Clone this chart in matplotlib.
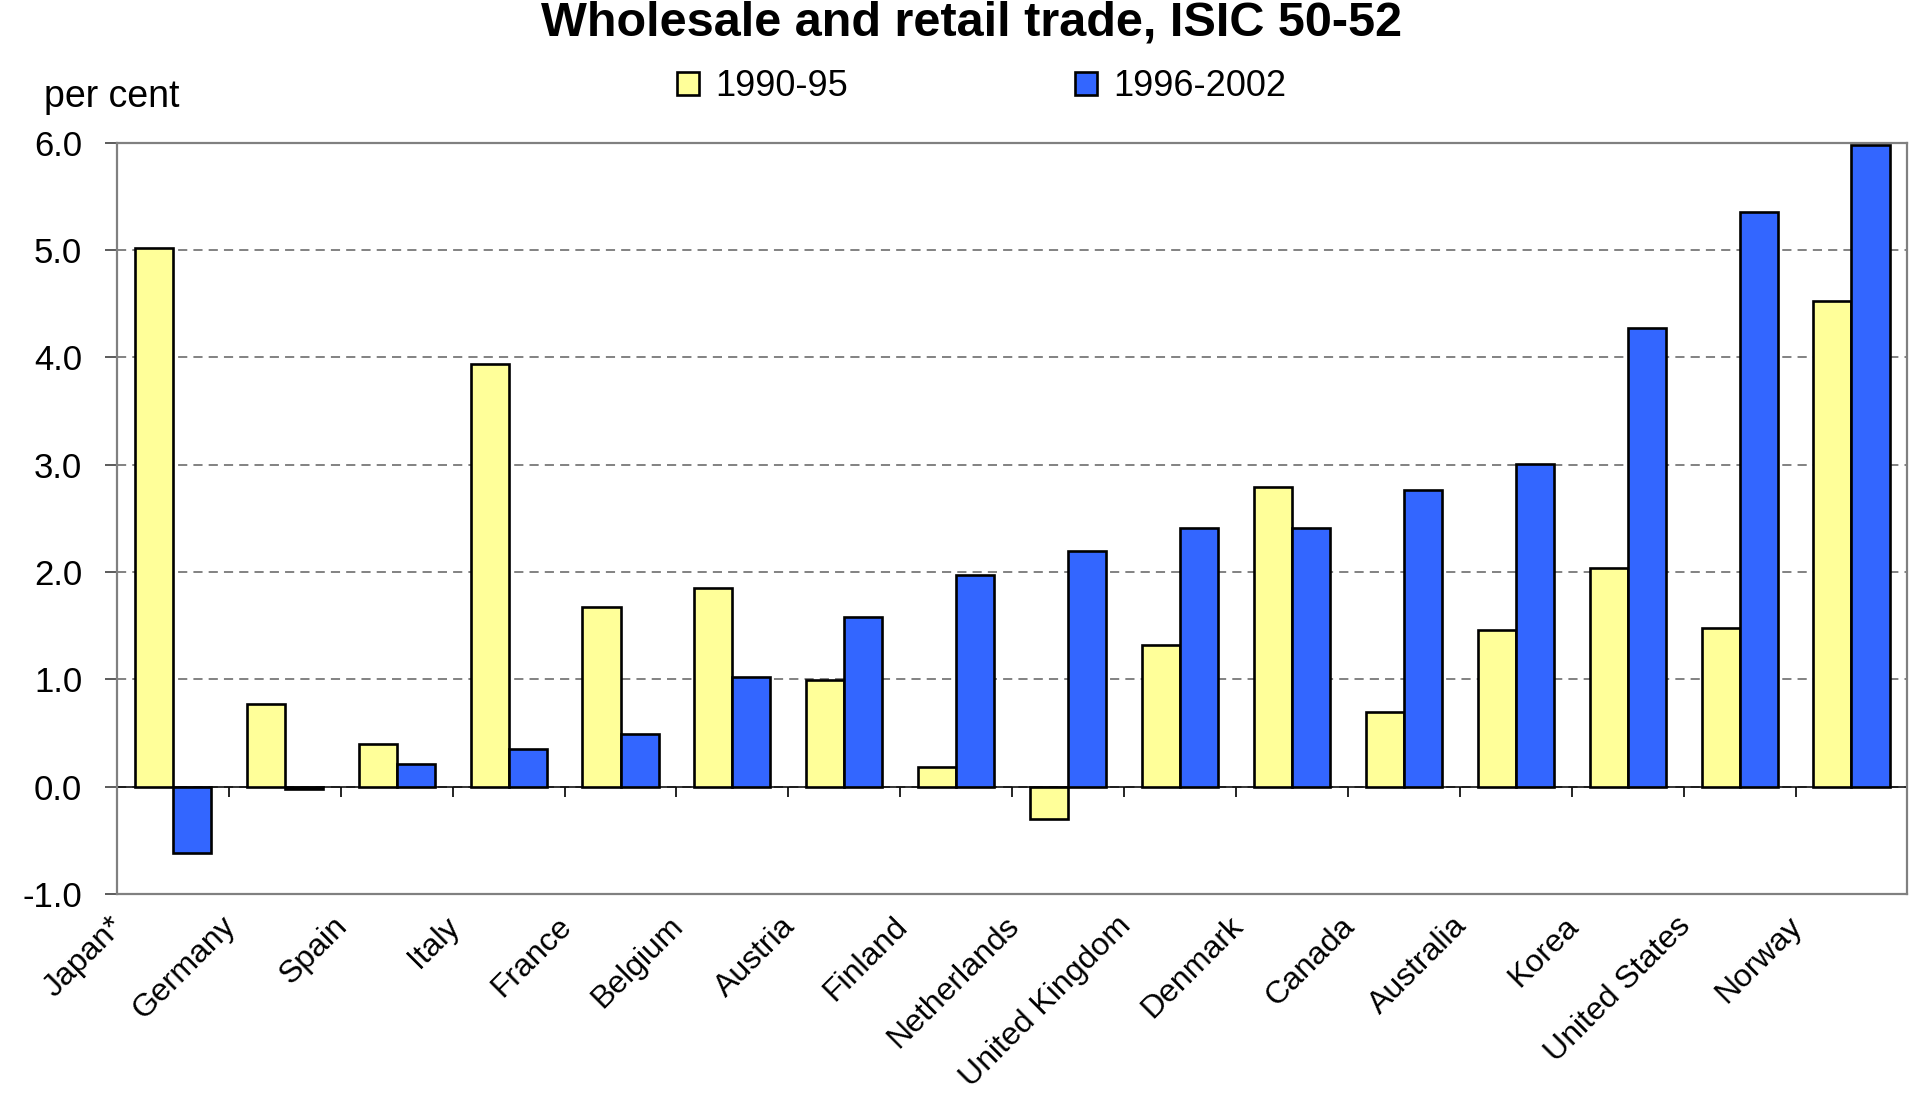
import numpy as np
import matplotlib.pyplot as plt
from matplotlib.transforms import ScaledTranslation

countries = ['Japan*', 'Germany', 'Spain', 'Italy', 'France', 'Belgium', 'Austria',
             'Finland', 'Netherlands', 'United Kingdom', 'Denmark', 'Canada',
             'Australia', 'Korea', 'United States', 'Norway']
growth_1990_95 = [5.02, 0.77, 0.40, 3.94, 1.67, 1.85, 0.99, 0.18, -0.30, 1.32,
                  2.79, 0.70, 1.46, 2.04, 1.48, 4.52]
growth_1996_2002 = [-0.62, -0.02, 0.21, 0.35, 0.49, 1.02, 1.58, 1.97, 2.20, 2.41,
                    2.41, 2.76, 3.01, 4.27, 5.35, 5.98]
yticks = [-1.0, 0.0, 1.0, 2.0, 3.0, 4.0, 5.0, 6.0]

plt.rcParams['font.family'] = ['Liberation Sans', 'DejaVu Sans']

fig = plt.figure(figsize=(19.17, 10.97), dpi=100)
ax = fig.add_axes([0.061, 0.185, 0.934, 0.685])

x = np.arange(len(countries))
w = 0.34
ax.bar(x - w / 2, growth_1990_95, w, color='#FFFF99', edgecolor='black',
       linewidth=1.9, label='1990-95', zorder=3)
ax.bar(x + w / 2, growth_1996_2002, w, color='#3366FF', edgecolor='black',
       linewidth=1.9, label='1996-2002', zorder=3)

ax.set_xlim(-0.5, len(countries) - 0.5)
ax.set_ylim(-1, 6)
ax.set_yticks(yticks)
ax.set_yticklabels([f'{v:.1f}' for v in yticks], fontsize=25)
ax.tick_params(axis='y', direction='out', length=9, width=1.2, color='#404040', pad=16)

ax.yaxis.grid(True, linestyle=(0, (6, 4)), color='#606060', linewidth=1.1)
ax.set_axisbelow(True)
ax.axhline(0, color='black', linewidth=1.1, zorder=2)

# tick marks on the zero line between the groups
sec = ax.secondary_xaxis(1 / 7)
sec.set_xticks(np.arange(len(countries) - 1) + 0.5)
sec.set_xticklabels([])
sec.tick_params(direction='out', length=7, width=1.2, color='black')
sec.spines['bottom'].set_visible(False)

ax.set_xticks(x)
ax.set_xticklabels(countries, rotation=45, ha='right', va='top',
                   rotation_mode='anchor', fontsize=23)
ax.tick_params(axis='x', length=0, pad=0)
offset = ScaledTranslation(-0.64, -0.17, fig.dpi_scale_trans)
for lab in ax.get_xticklabels():
    lab.set_transform(lab.get_transform() + offset)

for s in ax.spines.values():
    s.set_color('#808080')
    s.set_linewidth(1.6)

fig.text(0.507, 0.979, 'Wholesale and retail trade, ISIC 50-52', ha='center',
         va='center', fontsize=35, fontweight='bold')
fig.text(0.023, 0.912, 'per cent', ha='left', va='center', fontsize=27)

fig.legend(loc='center', bbox_to_anchor=(0.512, 0.921), ncol=2, frameon=False,
           fontsize=26, handlelength=0.6, handleheight=0.6, handletextpad=0.45,
           columnspacing=6.3)

fig.savefig('out.png', dpi=100)
